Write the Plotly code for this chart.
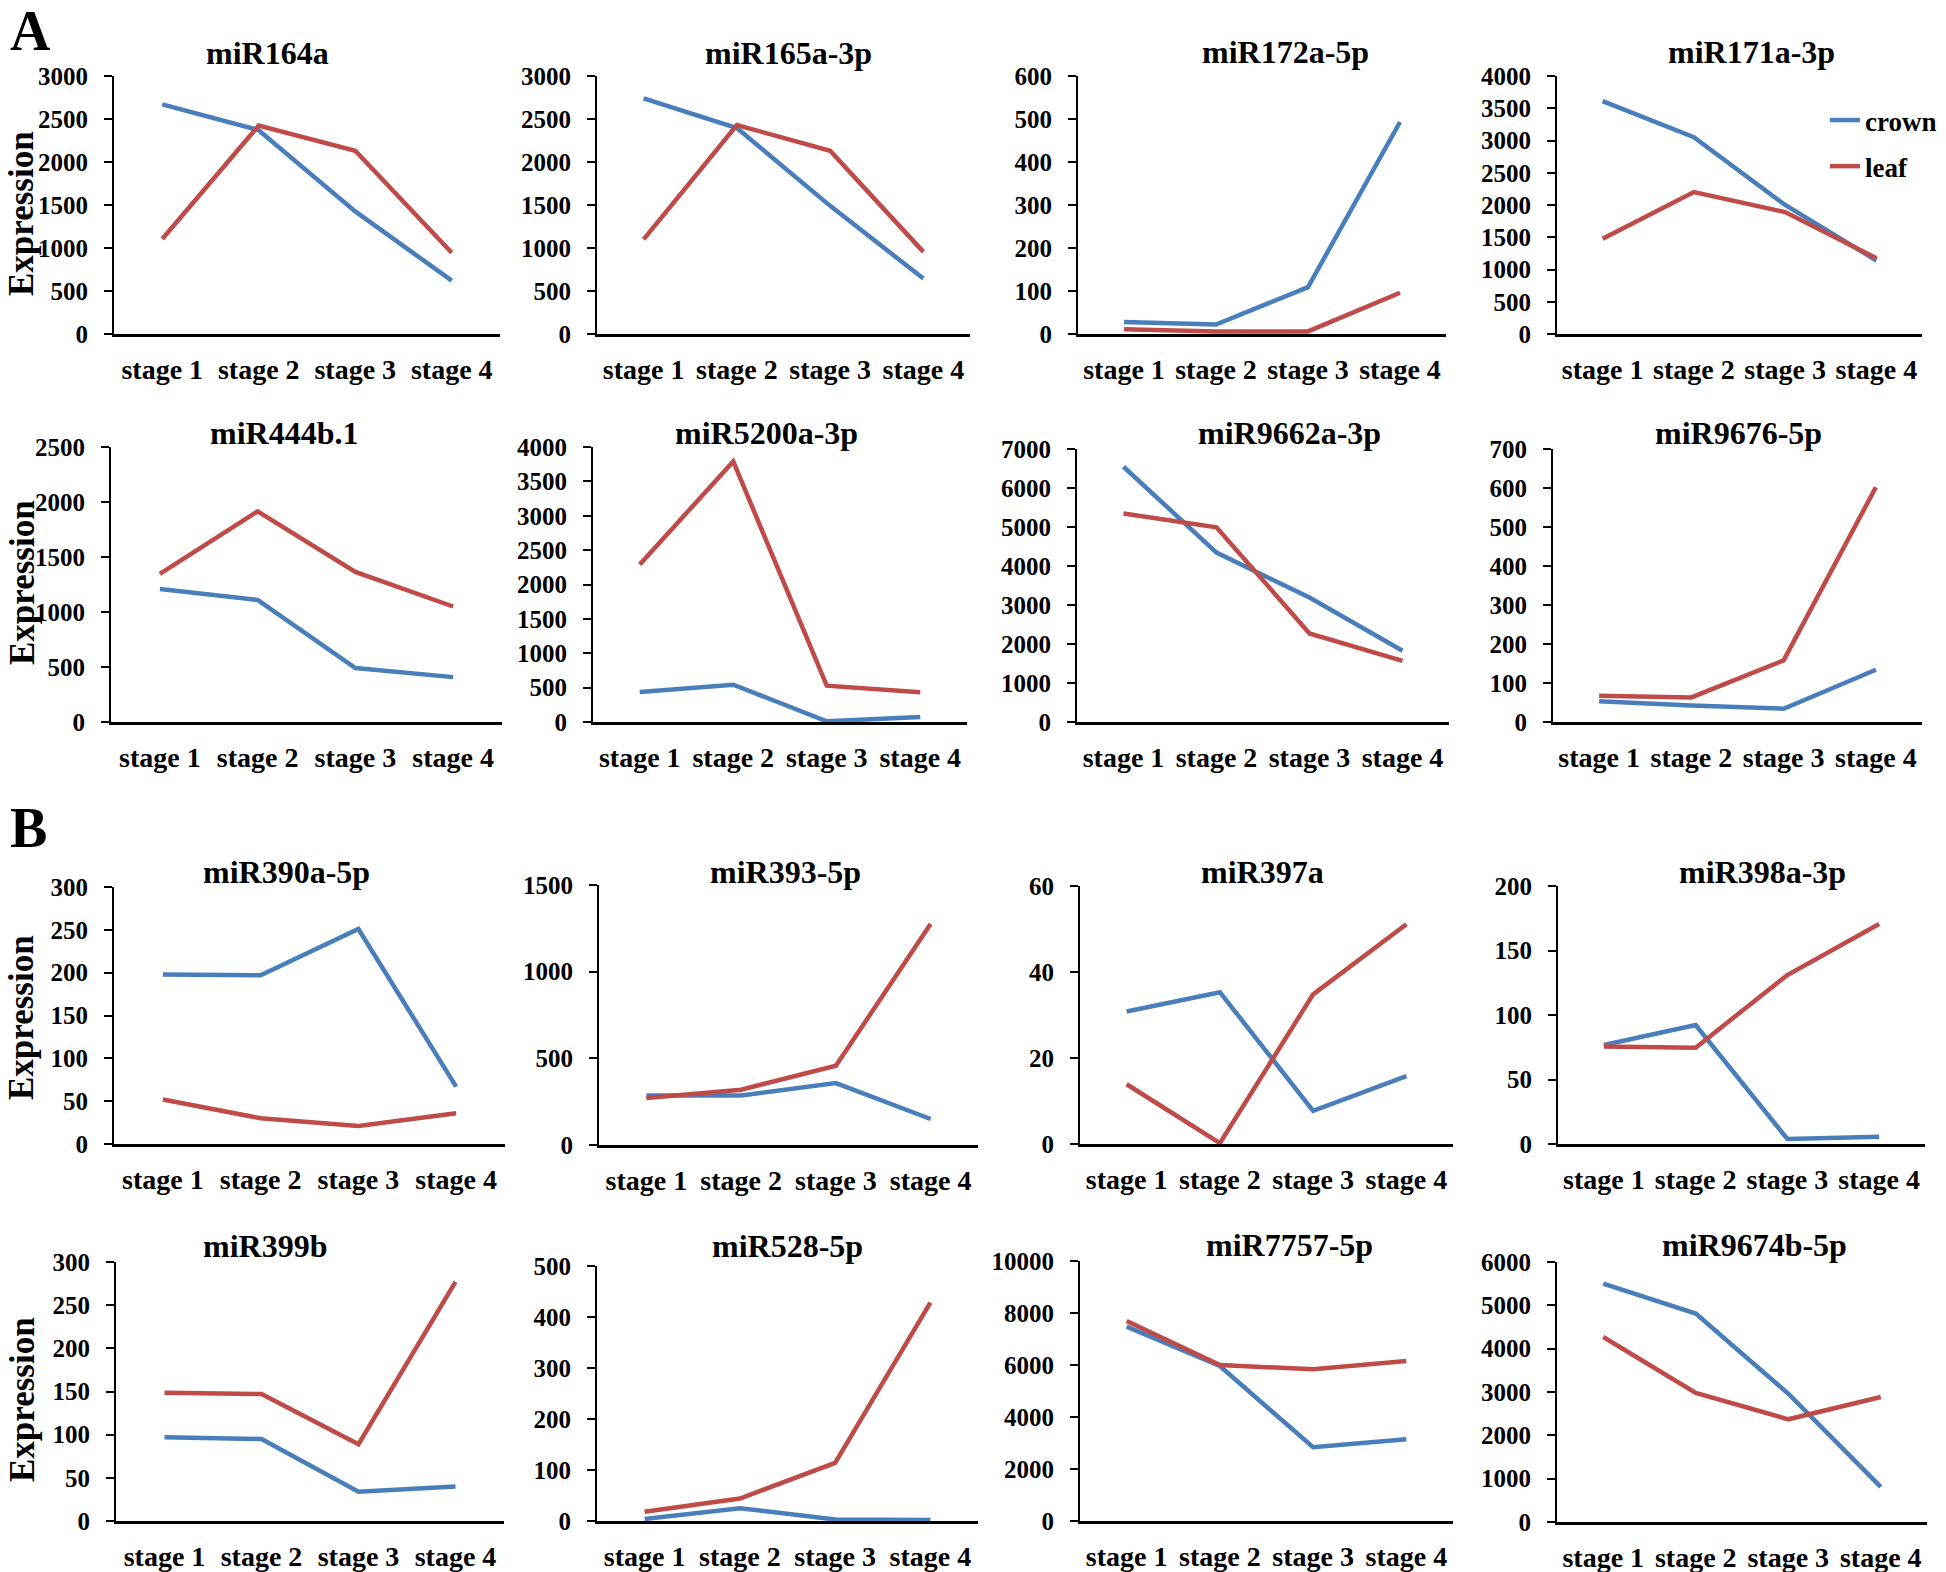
import plotly.graph_objects as go

stages = ["stage 1", "stage 2", "stage 3", "stage 4"]

miR164a_crown = [2670, 2370, 1425, 620]
miR164a_leaf = [1105, 2425, 2130, 945]
miR165a_3p_crown = [2740, 2395, 1490, 645]
miR165a_3p_leaf = [1100, 2430, 2130, 955]
miR172a_5p_crown = [28, 22, 109, 493]
miR172a_5p_leaf = [11, 6, 6, 96]
miR171a_3p_crown = [3610, 3050, 2000, 1140]
miR171a_3p_leaf = [1475, 2200, 1890, 1175]
miR444b_1_crown = [1210, 1110, 490, 408]
miR444b_1_leaf = [1347, 1915, 1365, 1050]
miR5200a_3p_crown = [436, 543, 10, 73]
miR5200a_3p_leaf = [2290, 3790, 528, 432]
miR9662a_3p_crown = [6545, 4345, 3190, 1825]
miR9662a_3p_leaf = [5345, 4990, 2270, 1565]
miR9676_5p_crown = [53, 42, 34, 134]
miR9676_5p_leaf = [67, 63, 158, 602]
miR390a_5p_crown = [198, 197, 251, 67]
miR390a_5p_leaf = [52, 30, 21, 36]
miR393_5p_crown = [286, 286, 357, 150]
miR393_5p_leaf = [271, 319, 457, 1275]
miR397a_crown = [30.8, 35.3, 7.7, 15.8]
miR397a_leaf = [13.9, 0.2, 34.8, 51.1]
miR398a_3p_crown = [76.7, 92.2, 3.9, 5.7]
miR398a_3p_leaf = [75.5, 74.7, 131, 170.5]
miR399b_crown = [97, 95, 34, 40]
miR399b_leaf = [148.5, 147, 89, 277]
miR528_5p_crown = [4, 25, 3, 2]
miR528_5p_leaf = [18, 44, 114, 428]
miR7757_5p_crown = [7475, 5960, 2835, 3140]
miR7757_5p_leaf = [7690, 6000, 5835, 6155]
miR9674b_5p_crown = [5500, 4810, 2960, 810]
miR9674b_5p_leaf = [4270, 2980, 2370, 2885]

titles = ["miR164a", "miR165a-3p", "miR172a-5p", "miR171a-3p",
          "miR444b.1", "miR5200a-3p", "miR9662a-3p", "miR9676-5p",
          "miR390a-5p", "miR393-5p", "miR397a", "miR398a-3p",
          "miR399b", "miR528-5p", "miR7757-5p", "miR9674b-5p"]
crown_series = [miR164a_crown, miR165a_3p_crown, miR172a_5p_crown, miR171a_3p_crown,
                miR444b_1_crown, miR5200a_3p_crown, miR9662a_3p_crown, miR9676_5p_crown,
                miR390a_5p_crown, miR393_5p_crown, miR397a_crown, miR398a_3p_crown,
                miR399b_crown, miR528_5p_crown, miR7757_5p_crown, miR9674b_5p_crown]
leaf_series = [miR164a_leaf, miR165a_3p_leaf, miR172a_5p_leaf, miR171a_3p_leaf,
               miR444b_1_leaf, miR5200a_3p_leaf, miR9662a_3p_leaf, miR9676_5p_leaf,
               miR390a_5p_leaf, miR393_5p_leaf, miR397a_leaf, miR398a_3p_leaf,
               miR399b_leaf, miR528_5p_leaf, miR7757_5p_leaf, miR9674b_5p_leaf]
y_max = [3000, 3000, 600, 4000, 2500, 4000, 7000, 700,
         300, 1500, 60, 200, 300, 500, 10000, 6000]
y_step = [500, 500, 100, 500, 500, 500, 1000, 100,
          50, 500, 20, 50, 50, 100, 2000, 1000]

# page body has an 8px default margin; figure is sized to fit the window
OFF = 8
W, H = 1946 - OFF, 1572 - OFF


def px(x):
    return (x - OFF) / W


def py(y):
    return 1 - (y - OFF) / H


# plot areas in page pixels: (left, right, top, bottom)
boxes = [
    (114, 500, 76, 334), (597, 970, 76, 334), (1078, 1446, 76, 334), (1557, 1922, 76, 334),
    (111, 502, 447, 722), (593, 967, 447, 722), (1077, 1449, 449, 722), (1553, 1922, 449, 722),
    (114, 505, 887, 1144), (599, 978, 885, 1145), (1080, 1453, 886, 1144), (1558, 1925, 886, 1144),
    (116, 504, 1262, 1521), (597, 978, 1266, 1521), (1080, 1453, 1261, 1521), (1557, 1927, 1262, 1522),
]
title_pos = [(267, 53), (788, 53), (1285, 52), (1751, 52),
             (284, 433), (766, 433), (1289, 433), (1738, 433),
             (286, 872), (785, 872), (1262, 872), (1762, 872),
             (265, 1246), (787, 1246), (1289, 1245), (1754, 1245)]
expr_y = [214, 583, 1018, 1400]

BLUE = "#4A7EBB"
RED = "#BE4B48"
FONT = "Liberation Serif"

fig = go.Figure()
layout = dict(
    width=W, height=H, margin=dict(l=0, r=0, t=0, b=0, pad=0, autoexpand=False),
    paper_bgcolor="white", plot_bgcolor="white",
    font=dict(family=FONT, color="black", size=24),
    showlegend=True,
    legend=dict(x=px(1825), y=py(96), xanchor="left", yanchor="top",
                bgcolor="rgba(0,0,0,0)", borderwidth=0,
                font=dict(family=FONT, size=27, color="black", weight="bold"),
                tracegroupgap=8),
)
annotations = []

for i in range(16):
    k = "" if i == 0 else str(i + 1)
    l, r, t, b = boxes[i]
    fig.add_trace(go.Scatter(
        x=stages, y=crown_series[i], mode="lines", name="crown",
        line=dict(color=BLUE, width=4.5), xaxis="x" + k, yaxis="y" + k,
        showlegend=(i == 0), legendgroup="crown", cliponaxis=False))
    fig.add_trace(go.Scatter(
        x=stages, y=leaf_series[i], mode="lines", name="leaf",
        line=dict(color=RED, width=4.5), xaxis="x" + k, yaxis="y" + k,
        showlegend=(i == 0), legendgroup="leaf", cliponaxis=False))
    layout["xaxis" + k] = dict(
        domain=[px(l), px(r)], anchor="y" + k, type="category",
        categoryorder="array", categoryarray=stages, range=[-0.5, 3.5],
        showline=True, linecolor="black", linewidth=3, ticks="",
        showgrid=False, zeroline=False, ticklabelstandoff=8, automargin=False,
        tickfont=dict(family=FONT, size=28, color="black", weight="bold"))
    layout["yaxis" + k] = dict(
        domain=[py(b), py(t)], anchor="x" + k,
        range=[0, y_max[i]], tickmode="linear", tick0=0, dtick=y_step[i],
        tickformat="d", showline=True, linecolor="black", linewidth=2,
        ticks="outside", ticklen=8, tickwidth=2, tickcolor="black",
        showgrid=False, zeroline=False, ticklabelstandoff=11, automargin=False,
        tickfont=dict(family=FONT, size=25, color="black", weight="bold"))
    tx, ty = title_pos[i]
    annotations.append(dict(
        x=px(tx), y=py(ty), xref="paper", yref="paper", showarrow=False,
        xanchor="center", yanchor="middle", text="<b>%s</b>" % titles[i],
        font=dict(family=FONT, size=32, color="black")))

for ey in expr_y:
    annotations.append(dict(
        x=px(22), y=py(ey), xref="paper", yref="paper", showarrow=False,
        xanchor="center", yanchor="middle", textangle=-90,
        text="<b>Expression</b>", font=dict(family=FONT, size=35, color="black")))

annotations.append(dict(x=px(8), y=py(-2), xref="paper", yref="paper", showarrow=False,
                        xanchor="left", yanchor="top", text="<b>A</b>",
                        font=dict(family=FONT, size=56, color="black")))
annotations.append(dict(x=px(8), y=py(795), xref="paper", yref="paper", showarrow=False,
                        xanchor="left", yanchor="top", text="<b>B</b>",
                        font=dict(family=FONT, size=56, color="black")))

layout["annotations"] = annotations
fig.update_layout(**layout)
fig.write_html("out.html")
